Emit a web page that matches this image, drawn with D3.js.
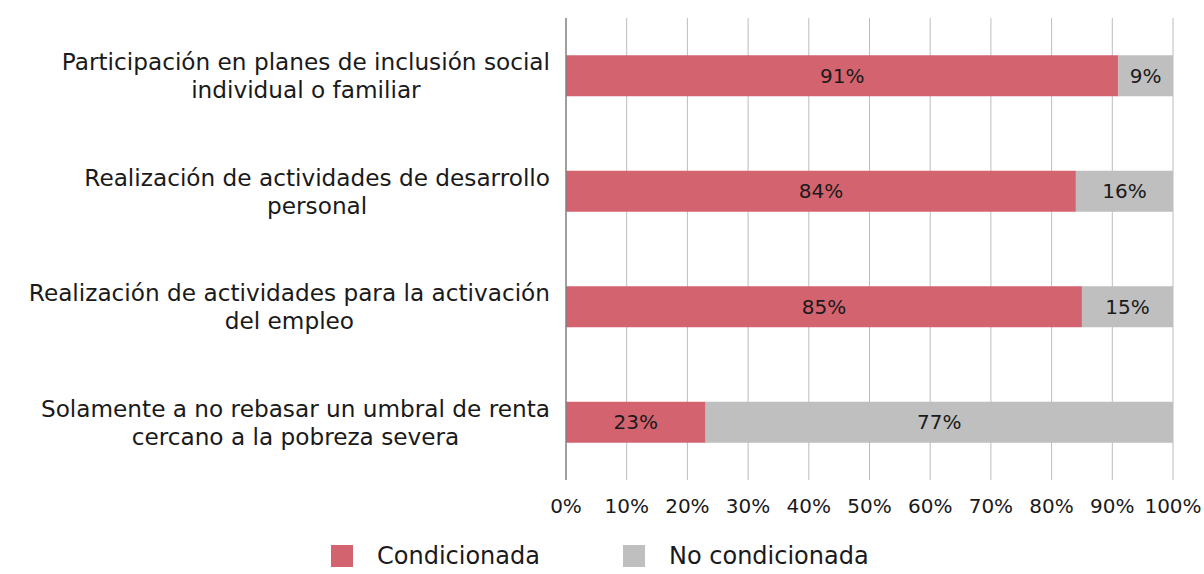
<!DOCTYPE html>
<html>
<head>
<meta charset="utf-8">
<script src="https://cdn.jsdelivr.net/npm/d3@7"></script>
<style>
  html, body { margin: 0; padding: 0; background: #fff; }
  svg { display: block; }
  text { font-family: "DejaVu Sans", sans-serif; fill: #1a1a1a; }
</style>
</head>
<body>
<svg id="chart" width="1204" height="574"></svg>
<script>
// Conditions attached to the benefit, and share of schemes applying each one
const categories = [
  ["Participación en planes de inclusión social", "individual o familiar"],
  ["Realización de actividades de desarrollo", "personal"],
  ["Realización de actividades para la activación", "del empleo"],
  ["Solamente a no rebasar un umbral de renta", "cercano a la pobreza severa"]
];
const condicionada = [91, 84, 85, 23];
const noCondicionada = [9, 16, 15, 77];
const seriesNames = ["Condicionada", "No condicionada"];
const seriesColors = ["#D46370", "#BFBFBF"];
const tickValues = [0, 10, 20, 30, 40, 50, 60, 70, 80, 90, 100];

const svg = d3.select("#chart");
const margin = { left: 566, right: 31, top: 18, bottom: 94 };
const W = 1204, H = 574;

const x = d3.scaleLinear().domain([0, 100]).range([margin.left, W - margin.right]);
const y = d3.scaleBand()
  .domain(categories.map((d, i) => i))
  .range([margin.top, H - margin.bottom])
  .paddingInner(0.645)
  .paddingOuter(0.3225);

// vertical gridlines
svg.append("g")
  .selectAll("line")
  .data(tickValues.slice(1))
  .join("line")
  .attr("x1", d => x(d)).attr("x2", d => x(d))
  .attr("y1", margin.top).attr("y2", H - margin.bottom)
  .attr("stroke", "#BDBDBD").attr("stroke-width", 1);

// stacked bars
const rows = categories.map((c, i) => ({ i, a: condicionada[i], b: noCondicionada[i] }));
const segs = [];
rows.forEach(r => {
  segs.push({ i: r.i, x0: 0, x1: r.a, v: r.a, s: 0 });
  segs.push({ i: r.i, x0: r.a, x1: r.a + r.b, v: r.b, s: 1 });
});

svg.append("g")
  .selectAll("rect")
  .data(segs)
  .join("rect")
  .attr("x", d => x(d.x0))
  .attr("width", d => x(d.x1) - x(d.x0))
  .attr("y", d => y(d.i))
  .attr("height", y.bandwidth())
  .attr("fill", d => seriesColors[d.s]);

svg.append("g")
  .selectAll("text")
  .data(segs)
  .join("text")
  .attr("x", d => (x(d.x0) + x(d.x1)) / 2)
  .attr("y", d => y(d.i) + y.bandwidth() / 2)
  .attr("dy", "0.36em")
  .attr("text-anchor", "middle")
  .attr("font-size", 20)
  .text(d => d.v + "%");

// category axis line
svg.append("line")
  .attr("x1", x(0)).attr("x2", x(0))
  .attr("y1", margin.top).attr("y2", H - margin.bottom)
  .attr("stroke", "#7F7F7F").attr("stroke-width", 1.5);

// category labels: two centred lines, block right-aligned
const labelG = svg.append("g");
categories.forEach((lines, i) => {
  const cy = y(i) + y.bandwidth() / 2;
  const t = labelG.append("text")
    .attr("font-size", 23.2)
    .attr("text-anchor", "middle");
  const tmp = t.append("tspan").text(lines[0]);
  const w = tmp.node().getComputedTextLength();
  tmp.remove();
  const cx = 550 - w / 2;
  lines.forEach((ln, k) => {
    t.append("tspan")
      .attr("x", cx)
      .attr("y", cy + (k - 0.5) * 28)
      .attr("dy", "0.36em")
      .text(ln);
  });
});

// x axis tick labels
svg.append("g")
  .selectAll("text")
  .data(tickValues)
  .join("text")
  .attr("x", d => x(d))
  .attr("y", 506)
  .attr("dy", "0.36em")
  .attr("text-anchor", "middle")
  .attr("font-size", 20)
  .text(d => d + "%");

// legend
const legendX = [331, 623];
const legend = svg.append("g");
seriesNames.forEach((name, k) => {
  legend.append("rect")
    .attr("x", legendX[k]).attr("y", 545)
    .attr("width", 22).attr("height", 22)
    .attr("fill", seriesColors[k]);
  legend.append("text")
    .attr("x", legendX[k] + 46).attr("y", 564)
    .attr("font-size", 24)
    .text(name);
});
</script>
</body>
</html>
